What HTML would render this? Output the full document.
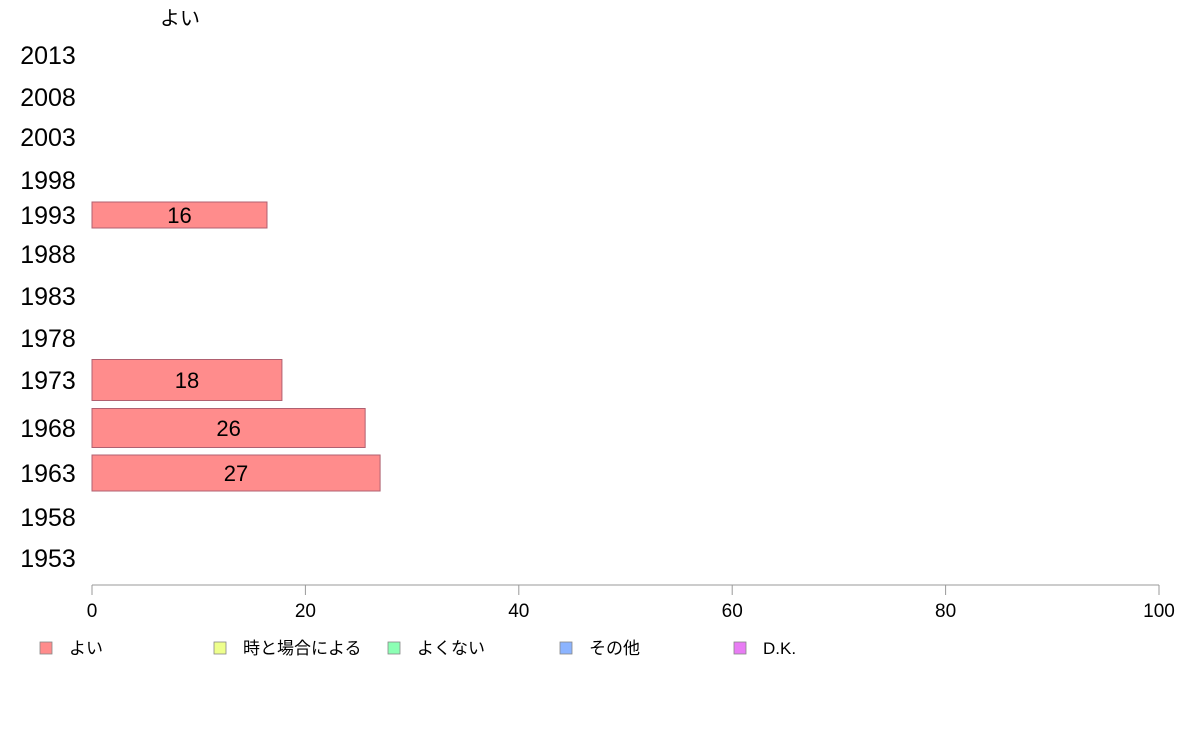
<!DOCTYPE html>
<html><head><meta charset="utf-8"><style>
body{margin:0;background:#fff;}
svg{display:block;font-family:"Liberation Sans","Noto Sans CJK JP",sans-serif;}
</style></head><body>
<svg id="c" width="1188" height="736"></svg>
<script>
const categories=["2013","2008","2003","1998","1993","1988","1983","1978","1973","1968","1963","1958","1953"];
const values=[null,null,null,null,16.4,null,null,null,17.8,25.6,27.0,null,null];
const valueLabels=[null,null,null,null,"16",null,null,null,"18","26","27",null,null];
const ticks=[0,20,40,60,80,100];
const legendLabels=["よい","時と場合による","よくない","その他","D.K."];
const legendColors=["#ff8c8c","#eeff8c","#8cffb4","#8cb4ff","#e87cf4"];
// layout (pixel config, not data)
const rowCenter=[55,97,137,180,215,254,296,338,380,428,473,517,558];
const rowHeight=[26,26,26,26,26,26,26,26,41,39,36,26,26];
const X0=92,X1=1159;
const x=v=>X0+(X1-X0)*v/100;
const svg=document.getElementById('c');
const NS='http://www.w3.org/2000/svg';
function mk(t,a,txt){const e=document.createElementNS(NS,t);for(const k in a)e.setAttribute(k,a[k]);if(txt!=null)e.textContent=txt;svg.appendChild(e);return e;}
let t=mk('text',{x:180,y:25,'font-size':20,'text-anchor':'middle',fill:'#000'},'よい');


categories.forEach((c,i)=>{
  const l=mk('text',{x:48,y:rowCenter[i]+9,'font-size':25,'text-anchor':'middle',fill:'#000'},c);
  
  
  if(values[i]!=null){
    const h=rowHeight[i];
    const r=mk('rect',{x:X0,y:rowCenter[i]-h/2,width:x(values[i])-X0,height:h,fill:'#ff8c8c',stroke:'#b06070','stroke-width':1});
    
    
    const v=mk('text',{x:(X0+x(values[i]))/2,y:rowCenter[i]+8,'font-size':22,'text-anchor':'middle',fill:'#000'},valueLabels[i]);
    
    
  }
});
const ax=mk('line',{x1:X0,y1:585,x2:X1,y2:585,stroke:'#999','stroke-width':1});


ticks.forEach(v=>{
  const tk=mk('line',{x1:x(v),y1:585,x2:x(v),y2:595,stroke:'#999'});
  
  
  const tl=mk('text',{x:x(v),y:617,'font-size':19,'text-anchor':'middle',fill:'#000'},String(v));
  
  
});
const legX=[40,214,388,560,734];
legendLabels.forEach((l,i)=>{
  const s=mk('rect',{x:legX[i],y:642,width:12,height:12,fill:legendColors[i],stroke:'#888','stroke-width':0.8});
  
  
  const lt=mk('text',{x:legX[i]+29,y:654,'font-size':17,fill:'#000'},l);
  
  
});
</script>
</body></html>
